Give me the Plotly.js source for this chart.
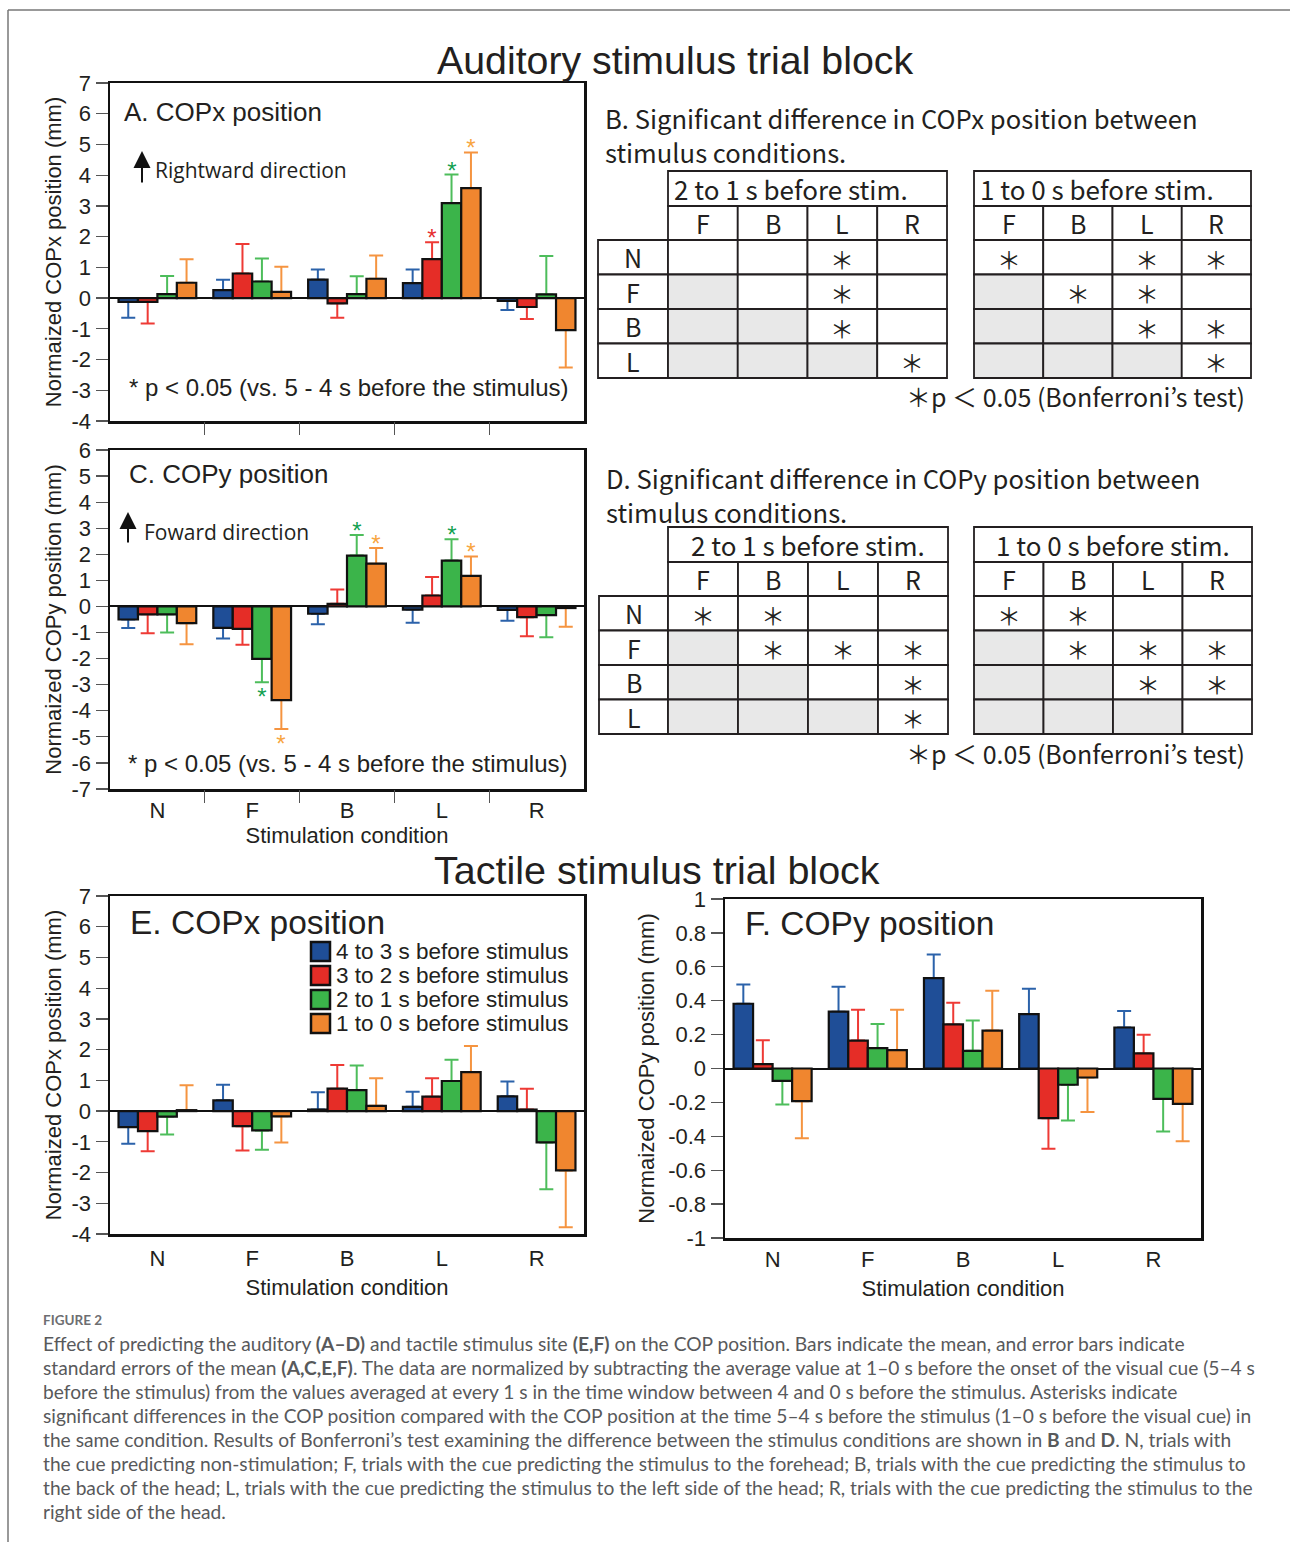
<!DOCTYPE html>
<html>
<head>
<meta charset="utf-8">
<script src="https://cdn.plot.ly/plotly-3.0.1.min.js"></script>
<style>html,body{margin:0;padding:0;background:#fff;}#chart{width:1290px;height:1542px;}</style>
</head>
<body>
<div id="chart"></div>
<script>
// ---------------- DATA ----------------
const categories = ['N', 'F', 'B', 'L', 'R'];
const seriesNames = ['4 to 3 s before stimulus', '3 to 2 s before stimulus', '2 to 1 s before stimulus', '1 to 0 s before stimulus'];

// A. Auditory block, COPx (mm)
const audX_4to3 = [-0.12, 0.26, 0.60, 0.49, -0.09];
const audX_3to2 = [-0.12, 0.80, -0.17, 1.27, -0.29];
const audX_2to1 = [0.13, 0.54, 0.13, 3.09, 0.12];
const audX_1to0 = [0.50, 0.20, 0.63, 3.58, -1.04];
const audXErr_4to3 = [0.52, 0.34, 0.33, 0.44, 0.30];
const audXErr_3to2 = [0.71, 0.96, 0.47, 0.55, 0.39];
const audXErr_2to1 = [0.59, 0.75, 0.58, 0.93, 1.25];
const audXErr_1to0 = [0.76, 0.82, 0.76, 1.16, 1.22];
const audXSig_4to3 = [0, 0, 0, 0, 0];
const audXSig_3to2 = [0, 0, 0, 1, 0];
const audXSig_2to1 = [0, 0, 0, 1, 0];
const audXSig_1to0 = [0, 0, 0, 1, 0];

// C. Auditory block, COPy (mm)
const audY_4to3 = [-0.50, -0.82, -0.28, -0.12, -0.13];
const audY_3to2 = [-0.30, -0.86, 0.10, 0.42, -0.41];
const audY_2to1 = [-0.30, -2.01, 1.95, 1.76, -0.33];
const audY_1to0 = [-0.64, -3.59, 1.64, 1.17, -0.06];
const audYErr_4to3 = [0.33, 0.41, 0.40, 0.50, 0.42];
const audYErr_3to2 = [0.73, 0.61, 0.55, 0.71, 0.73];
const audYErr_2to1 = [0.70, 0.90, 0.79, 0.82, 0.85];
const audYErr_1to0 = [0.81, 1.11, 0.60, 0.75, 0.72];
const audYSig_4to3 = [0, 0, 0, 0, 0];
const audYSig_3to2 = [0, 0, 0, 0, 0];
const audYSig_2to1 = [0, 1, 1, 1, 0];
const audYSig_1to0 = [0, 1, 1, 1, 0];

// E. Tactile block, COPx (mm)
const tacX_4to3 = [-0.52, 0.35, 0.05, 0.14, 0.48];
const tacX_3to2 = [-0.65, -0.49, 0.73, 0.47, 0.05];
const tacX_2to1 = [-0.18, -0.63, 0.68, 0.98, -1.02];
const tacX_1to0 = [0.03, -0.17, 0.17, 1.27, -1.93];
const tacXErr_4to3 = [0.54, 0.51, 0.56, 0.49, 0.48];
const tacXErr_3to2 = [0.66, 0.79, 0.77, 0.60, 0.68];
const tacXErr_2to1 = [0.58, 0.63, 0.80, 0.69, 1.52];
const tacXErr_1to0 = [0.81, 0.85, 0.90, 0.85, 1.85];

// F. Tactile block, COPy (mm)
const tacY_4to3 = [0.382, 0.335, 0.533, 0.321, 0.242];
const tacY_3to2 = [0.026, 0.165, 0.260, -0.293, 0.089];
const tacY_2to1 = [-0.073, 0.120, 0.104, -0.096, -0.179];
const tacY_1to0 = [-0.193, 0.108, 0.224, -0.053, -0.209];
const tacYErr_4to3 = [0.114, 0.147, 0.140, 0.149, 0.097];
const tacYErr_3to2 = [0.141, 0.181, 0.128, 0.181, 0.110];
const tacYErr_2to1 = [0.140, 0.142, 0.179, 0.211, 0.193];
const tacYErr_1to0 = [0.218, 0.238, 0.235, 0.203, 0.220];

// axis ticks
const yTicksA = [-4, -3, -2, -1, 0, 1, 2, 3, 4, 5, 6, 7];
const yTicksC = [-7, -6, -5, -4, -3, -2, -1, 0, 1, 2, 3, 4, 5, 6];
const yTicksE = [-4, -3, -2, -1, 0, 1, 2, 3, 4, 5, 6, 7];
const yTicksF = [-1, -0.8, -0.6, -0.4, -0.2, 0, 0.2, 0.4, 0.6, 0.8, 1];

// Tables B and D (Bonferroni): 1 = significant, 0 = not, null = lower triangle (grey)
const tableRowLabels = ['N', 'F', 'B', 'L'];
const tableColLabels = ['F', 'B', 'L', 'R'];
const copxSig_2to1 = [[0, 0, 1, 0], [null, 0, 1, 0], [null, null, 1, 0], [null, null, null, 1]];
const copxSig_1to0 = [[1, 0, 1, 1], [null, 1, 1, 0], [null, null, 1, 1], [null, null, null, 1]];
const copySig_2to1 = [[1, 1, 0, 0], [null, 1, 1, 1], [null, null, 0, 1], [null, null, null, 1]];
const copySig_1to0 = [[1, 1, 0, 0], [null, 1, 1, 1], [null, null, 1, 1], [null, null, null, 0]];

const captionLines = [
  'Effect of predicting the auditory <b>(A–D)</b> and tactile stimulus site <b>(E,F)</b> on the COP position. Bars indicate the mean, and error bars indicate',
  'standard errors of the mean <b>(A,C,E,F)</b>. The data are normalized by subtracting the average value at 1–0 s before the onset of the visual cue (5–4 s',
  'before the stimulus) from the values averaged at every 1 s in the time window between 4 and 0 s before the stimulus. Asterisks indicate',
  'significant differences in the COP position compared with the COP position at the time 5–4 s before the stimulus (1–0 s before the visual cue) in',
  'the same condition. Results of Bonferroni’s test examining the difference between the stimulus conditions are shown in <b>B</b> and <b>D</b>. N, trials with',
  'the cue predicting non-stimulation; F, trials with the cue predicting the stimulus to the forehead; B, trials with the cue predicting the stimulus to',
  'the back of the head; L, trials with the cue predicting the stimulus to the left side of the head; R, trials with the cue predicting the stimulus to the',
  'right side of the head.'
];

// ---------------- STYLE ----------------
const W = 1290, H = 1542;
const px = v => v / W;
const py = v => 1 - v / H;
const ARIAL = 'Liberation Sans, Arial, Helvetica, sans-serif';
const JP = 'Noto Sans CJK JP, sans-serif';
const TXT = '#231f20';
const barColors = ['#1f4e97', '#e52d27', '#3bb44a', '#f0862f'];
const errColors = ['#2b62aa', '#ee3a35', '#4dbd5b', '#f59440'];
const starColors = ['#1f4e97', '#e62d2f', '#12a150', '#f8a53f'];
const BW = 0.205;

const annotations = [];
const shapes = [];

const panels = [
  {xa: 'x', ya: 'y', tx: 'x5', vals: [audX_4to3, audX_3to2, audX_2to1, audX_1to0], errs: [audXErr_4to3, audXErr_3to2, audXErr_2to1, audXErr_1to0], sig: [audXSig_4to3, audXSig_3to2, audXSig_2to1, audXSig_1to0]},
  {xa: 'x2', ya: 'y2', tx: 'x6', vals: [audY_4to3, audY_3to2, audY_2to1, audY_1to0], errs: [audYErr_4to3, audYErr_3to2, audYErr_2to1, audYErr_1to0], sig: [audYSig_4to3, audYSig_3to2, audYSig_2to1, audYSig_1to0]},
  {xa: 'x3', ya: 'y3', tx: 'x7', vals: [tacX_4to3, tacX_3to2, tacX_2to1, tacX_1to0], errs: [tacXErr_4to3, tacXErr_3to2, tacXErr_2to1, tacXErr_1to0], sig: null},
  {xa: 'x4', ya: 'y4', tx: 'x8', vals: [tacY_4to3, tacY_3to2, tacY_2to1, tacY_1to0], errs: [tacYErr_4to3, tacYErr_3to2, tacYErr_2to1, tacYErr_1to0], sig: null}
];

const traces = [];
panels.forEach(p => {
  // error bars first (on hidden bars) so the visible bars cover the inner end caps
  p.vals.forEach((v, s) => {
    const e = p.errs[s];
    traces.push({
      type: 'bar', x: categories, y: v, xaxis: p.xa, yaxis: p.ya,
      width: BW, offset: -2 * BW + BW * s,
      marker: {color: 'rgba(0,0,0,0)', line: {width: 0}},
      error_y: {type: 'data', symmetric: false,
        array: v.map((d, i) => d >= 0 ? e[i] : 0),
        arrayminus: v.map((d, i) => d < 0 ? e[i] : 0),
        color: errColors[s], thickness: 2, width: 7},
      hoverinfo: 'skip', showlegend: false
    });
  });
  p.vals.forEach((v, s) => {
    traces.push({
      type: 'bar', name: seriesNames[s], x: categories, y: v, xaxis: p.xa, yaxis: p.ya,
      width: BW, offset: -2 * BW + BW * s,
      marker: {color: barColors[s], line: {color: '#111', width: 2.2}},
      showlegend: false
    });
  });
  // significance asterisks (vs. 5-4 s before stimulus), placed beyond the error bar end
  if (p.sig) {
    p.vals.forEach((v, s) => {
      const e = p.errs[s];
      p.sig[s].forEach((f, i) => {
        if (!f) return;
        const up = v[i] >= 0;
        annotations.push({xref: p.tx, yref: p.ya, x: i - 1.5 * BW + BW * s, y: up ? v[i] + e[i] : v[i] - e[i],
          text: '*', showarrow: false, xanchor: 'center', yanchor: 'middle', yshift: up ? 11 : -8,
          width: 14, height: 14, valign: 'top',
          font: {family: ARIAL, size: 24, color: starColors[s]}});
      });
    });
  }
});

// ---------------- AXES ----------------
const boxLine = {showline: true, mirror: true, linecolor: '#111', linewidth: 2.5, showgrid: false};
function xCat(d0, d1, anchor, showLabels, labelPad, title, standoff) {
  const ax = Object.assign({
    domain: [px(d0), px(d1)], anchor: anchor, type: 'category', categoryarray: categories,
    range: [-0.5, 4.5], zeroline: false, fixedrange: true,
    showticklabels: showLabels, ticks: labelPad > 0 ? 'outside' : '', ticklen: labelPad,
    tickcolor: 'rgba(0,0,0,0)', tickfont: {family: ARIAL, size: 22, color: TXT}
  }, boxLine);
  if (title) ax.title = {text: title, font: {family: ARIAL, size: 22, color: TXT}, standoff: standoff};
  return ax;
}
function xTickOverlay(over, anchor) {
  return {overlaying: over, anchor: anchor, side: 'bottom', range: [-0.5, 4.5],
    tickvals: [0.5, 1.5, 2.5, 3.5], ticks: 'outside', ticklen: 13, tickwidth: 1.3, tickcolor: '#555',
    showticklabels: false, showline: false, showgrid: false, zeroline: false, fixedrange: true};
}
function yLin(top, bottom, anchor, ticks, title, standoff) {
  return Object.assign({
    domain: [py(bottom), py(top)], anchor: anchor,
    range: [ticks[0], ticks[ticks.length - 1]],
    tickmode: 'array', tickvals: ticks, ticktext: ticks.map(t => String(t)),
    ticks: 'outside', ticklen: 12, tickwidth: 1.3, tickcolor: '#555',
    tickfont: {family: ARIAL, size: 22, color: TXT},
    zeroline: true, zerolinecolor: '#111', zerolinewidth: 2, fixedrange: true,
    title: {text: title, font: {family: ARIAL, size: 22, color: TXT}, standoff: standoff}
  }, boxLine);
}

// ---------------- ANNOTATIONS & SHAPES ----------------
function txt(text, x, y, size, opts) {
  annotations.push(Object.assign({xref: 'paper', yref: 'paper', x: px(x), y: py(y), text: text,
    showarrow: false, xanchor: 'left', yanchor: 'middle', font: {family: ARIAL, size: size, color: TXT}}, opts || {}));
}
const jp = size => ({font: {family: JP, size: size, color: TXT}});
// frame
shapes.push({type: 'line', xref: 'paper', yref: 'paper', x0: px(8), y0: py(10), x1: 1, y1: py(10), line: {color: '#777', width: 1.5}});
shapes.push({type: 'line', xref: 'paper', yref: 'paper', x0: px(8), y0: py(10), x1: px(8), y1: 0, line: {color: '#777', width: 1.5}});

// block titles
txt('Auditory stimulus trial block', 675, 60, 39.3, {xanchor: 'center'});
txt('Tactile stimulus trial block', 657, 869, 39.5, {xanchor: 'center', height: 33});

// panel labels
txt('A. COPx position', 122, 112, 26);
txt('C. COPy position', 127, 474, 26);
txt('E. COPx position', 128, 922, 33.5);
txt('F. COPy position', 743, 923, 33.5);
txt('* p &lt; 0.05 (vs. 5 - 4 s before the stimulus)', 127, 387, 24);
txt('* p &lt; 0.05 (vs. 5 - 4 s before the stimulus)', 126, 763, 24);
txt('Rightward direction', 153, 170, 21, {font: {family: 'Open Sans, sans-serif', size: 21, color: TXT}});
txt('Foward direction', 142, 532, 21, {font: {family: 'Open Sans, sans-serif', size: 21, color: TXT}});
// direction arrows
[[142, 151, 33], [128, 512, 32]].forEach(a => {
  annotations.push({xref: 'paper', yref: 'paper', x: px(a[0]), y: py(a[1]), ax: 0, ay: a[2], text: '',
    showarrow: true, arrowhead: 2, arrowsize: 1.7, arrowwidth: 2, arrowcolor: '#111'});
});

// legend (panel E)
seriesNames.forEach((n, s) => {
  const cy = 951.5 + 24 * s;
  shapes.push({type: 'rect', xref: 'paper', yref: 'paper', x0: px(311), x1: px(330), y0: py(cy - 9.5), y1: py(cy + 9.5),
    fillcolor: barColors[s], line: {color: '#111', width: 2.5}});
  txt(n, 334, cy, 22.5);
});

// tables B & D
function drawTable(g, sigs, headers, headerCenter) {
  const lineC = '#231f20', lw = 1.8;
  const rowsTop = g.top + g.hH + g.cH;
  tableRowLabels.forEach((r, ri) => {
    const y0 = rowsTop + ri * g.rH;
    shapes.push({type: 'rect', xref: 'paper', yref: 'paper', x0: px(g.labelLeft), x1: px(g.lefts[0]), y0: py(y0), y1: py(y0 + g.rH),
      fillcolor: '#fff', line: {color: lineC, width: lw}});
    txt(r, (g.labelLeft + g.lefts[0]) / 2, y0 + g.rH / 2, 25, Object.assign({xanchor: 'center'}, jp(25)));
  });
  sigs.forEach((sig, k) => {
    const L = g.lefts[k], R = g.rights[k], cw = (R - L) / 4;
    shapes.push({type: 'rect', xref: 'paper', yref: 'paper', x0: px(L), x1: px(R), y0: py(g.top), y1: py(g.top + g.hH),
      fillcolor: '#fff', line: {color: lineC, width: lw}});
    if (headerCenter) txt(headers[k], (L + R) / 2, g.top + g.hH / 2, 26, Object.assign({xanchor: 'center'}, jp(26)));
    else txt(headers[k], L + 4, g.top + g.hH / 2, 26, jp(26));
    tableColLabels.forEach((c, ci) => {
      const x0 = L + ci * cw;
      shapes.push({type: 'rect', xref: 'paper', yref: 'paper', x0: px(x0), x1: px(x0 + cw), y0: py(g.top + g.hH), y1: py(rowsTop),
        fillcolor: '#fff', line: {color: lineC, width: lw}});
      txt(c, x0 + cw / 2, g.top + g.hH + g.cH / 2, 25, Object.assign({xanchor: 'center'}, jp(25)));
      sig.forEach((row, ri) => {
        const y0 = rowsTop + ri * g.rH;
        const v = row[ci];
        shapes.push({type: 'rect', xref: 'paper', yref: 'paper', x0: px(x0), x1: px(x0 + cw), y0: py(y0), y1: py(y0 + g.rH),
          fillcolor: v === null ? '#e8e8e8' : '#fff', line: {color: lineC, width: lw}});
        if (v === 1) txt('＊', x0 + cw / 2, y0 + g.rH / 2 + 1, 24, Object.assign({xanchor: 'center'}, jp(24)));
      });
    });
  });
}
const tableHeaders = ['2 to 1 s before stim.', '1 to 0 s before stim.'];
txt('B. Significant difference in COPx position between', 603, 118, 25.6, jp(25.6));
txt('stimulus conditions.', 603, 152, 25.6, jp(25.6));
drawTable({labelLeft: 598, lefts: [668, 974], rights: [947, 1251], top: 171, hH: 35, cH: 34, rH: 34.5},
  [copxSig_2to1, copxSig_1to0], tableHeaders, false);
txt('＊p ＜ 0.05 (Bonferroni’s test)', 1247, 396, 25, Object.assign({xanchor: 'right'}, jp(25)));

txt('D. Significant difference in COPy position between', 604, 477, 25.6, jp(25.6));
txt('stimulus conditions.', 604, 512, 25.6, jp(25.6));
drawTable({labelLeft: 599, lefts: [668, 974], rights: [948, 1252], top: 527, hH: 35, cH: 34, rH: 34.5},
  [copySig_2to1, copySig_1to0], tableHeaders, true);
txt('＊p ＜ 0.05 (Bonferroni’s test)', 1247, 753, 25, Object.assign({xanchor: 'right'}, jp(25)));

// caption
txt('<b>FIGURE 2</b>', 41, 1320, 13.5, {font: {family: 'Lato, sans-serif', size: 13.5, color: '#6d6e71'}});
captionLines.forEach((l, i) => {
  txt(l, 41, 1343 + 24 * i, 19.2, {font: {family: 'Lato, sans-serif', size: 19.2, color: '#58595b'}});
});

const layout = {
  width: W, height: H, margin: {l: 0, r: 0, t: 0, b: 0},
  paper_bgcolor: '#fff', plot_bgcolor: 'rgba(0,0,0,0)',
  barmode: 'overlay', showlegend: false,
  font: {family: ARIAL, color: TXT},
  xaxis: xCat(110, 584, 'y', false, 0, null, 0),
  yaxis: yLin(83, 421, 'x', yTicksA, 'Normaized COPx position (mm)', 4),
  xaxis2: xCat(110, 584, 'y2', true, 0, 'Stimulation condition', 1),
  yaxis2: yLin(450, 789, 'x2', yTicksC, 'Normaized COPy position (mm)', 4),
  xaxis3: xCat(110, 584, 'y3', true, 3, 'Stimulation condition', 10),
  yaxis3: yLin(896, 1234, 'x3', yTicksE, 'Normaized COPx position (mm)', 4),
  xaxis4: xCat(725, 1201, 'y4', true, 0, 'Stimulation condition', 10),
  yaxis4: yLin(899, 1238, 'x4', yTicksF, 'Normaized COPy position (mm)', 8),
  xaxis5: xTickOverlay('x', 'y'),
  xaxis6: xTickOverlay('x2', 'y2'),
  xaxis7: xTickOverlay('x3', 'y3'),
  xaxis8: xTickOverlay('x4', 'y4'),
  annotations: annotations,
  shapes: shapes
};

Plotly.newPlot('chart', traces, layout, {staticPlot: true, displayModeBar: false});
</script>
</body>
</html>
